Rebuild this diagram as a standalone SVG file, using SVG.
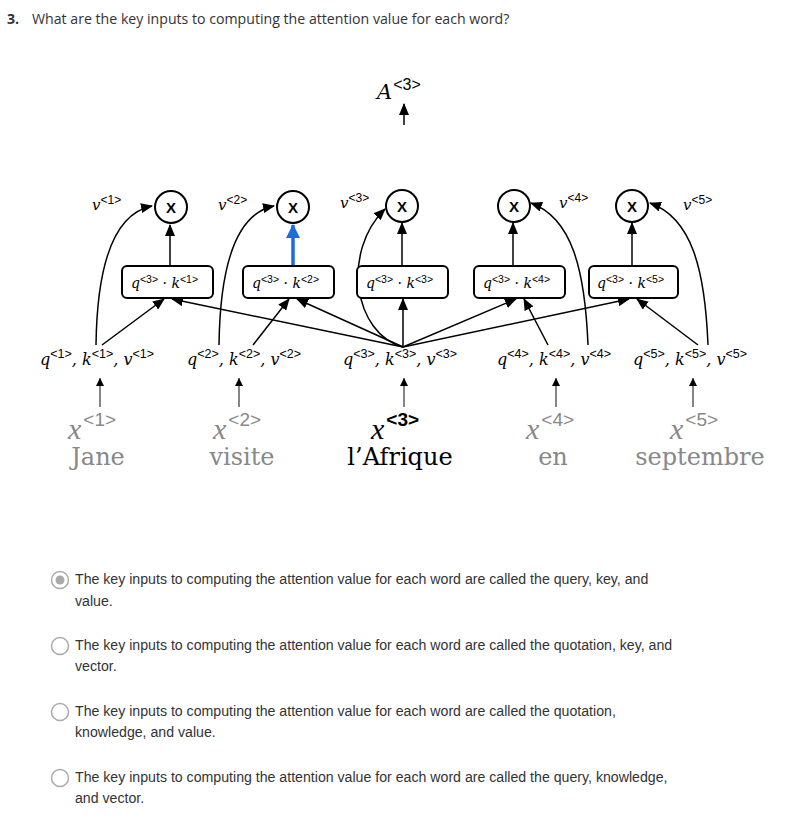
<svg xmlns="http://www.w3.org/2000/svg" width="805" height="824" viewBox="0 0 805 824">
<defs>
<marker id="ah" markerUnits="userSpaceOnUse" markerWidth="12" markerHeight="10" refX="11" refY="5" orient="auto"><path d="M0,0 L12,5 L0,10 z" fill="#000"/></marker>
<marker id="ahs" markerUnits="userSpaceOnUse" markerWidth="8" markerHeight="8" refX="8" refY="4" orient="auto"><path d="M0,0 L8,4 L0,8 z" fill="#000"/></marker>
<marker id="ahb" markerUnits="userSpaceOnUse" markerWidth="14" markerHeight="14" refX="13" refY="7" orient="auto"><path d="M0,0 L14,7 L0,14 z" fill="#1f6ae0"/></marker>
</defs>
<style>
.q{font-family:"Open Sans","Noto Sans",sans-serif;font-size:14.15px;fill:#333}
.opt{font-family:"Liberation Sans",Arial,sans-serif;font-size:14.15px;fill:#333}
.m{font-family:"DejaVu Serif","Liberation Serif",serif;font-style:italic}
.mx{font-family:"Liberation Serif","DejaVu Serif",serif;font-style:italic}
.sup{font-family:"Liberation Sans",Arial,sans-serif;font-style:normal}
.box{fill:#fff;stroke:#000;stroke-width:2}
.cir{fill:#fff;stroke:#000;stroke-width:2}
.xl{font-family:"Liberation Sans",Arial,sans-serif;font-weight:bold;font-size:15px;text-anchor:middle}
.c{fill:none;stroke:#000;stroke-width:1.5}
.cu{fill:none;stroke:#000;stroke-width:1.5}
.word{font-family:"DejaVu Serif","Liberation Serif",serif;font-size:24px;text-anchor:middle}
.g{fill:#888}
</style>
<rect width="805" height="824" fill="#fff"/>

<g id="question">
<text x="7" y="24" class="q" style="font-weight:bold">3.</text>
<text x="32" y="24" class="q">What are the key inputs to computing the attention value for each word?</text>
</g>

<g id="A3">
<text x="377" y="99" class="m" font-size="21">A<tspan class="sup" font-size="16" dy="-9" dx="1">&lt;3&gt;</tspan></text>
</g>

<g id="connectors">
<line x1="404" y1="125" x2="404" y2="104" class="c" marker-end="url(#ah)"/>
<line x1="170" y1="265" x2="170" y2="225" class="c" marker-end="url(#ah)"/>
<line x1="293" y1="265" x2="293" y2="225" stroke="#1f6ae0" stroke-width="3.5" marker-end="url(#ahb)"/>
<line x1="402" y1="265" x2="402" y2="223" class="c" marker-end="url(#ah)"/>
<line x1="513" y1="265" x2="513" y2="223" class="c" marker-end="url(#ah)"/>
<line x1="632" y1="265" x2="632" y2="223" class="c" marker-end="url(#ah)"/>
<line x1="102" y1="345" x2="164" y2="299" class="c" marker-end="url(#ah)"/>
<line x1="403" y1="347" x2="172" y2="299" class="c" marker-end="url(#ah)"/>
<line x1="253" y1="345" x2="289" y2="299" class="c" marker-end="url(#ah)"/>
<line x1="403" y1="347" x2="297" y2="299" class="c" marker-end="url(#ah)"/>
<line x1="403" y1="347" x2="403" y2="299" class="c" marker-end="url(#ah)"/>
<line x1="403" y1="347" x2="516" y2="299" class="c" marker-end="url(#ah)"/>
<line x1="548" y1="345" x2="524" y2="299" class="c" marker-end="url(#ah)"/>
<line x1="403" y1="347" x2="629" y2="299" class="c" marker-end="url(#ah)"/>
<line x1="698" y1="345" x2="637" y2="299" class="c" marker-end="url(#ah)"/>
<path d="M96 345 C97 270 112 214 152 206" class="cu" marker-end="url(#ah)"/>
<path d="M219 345 C220 270 234 214 274 206" class="cu" marker-end="url(#ah)"/>
<path d="M403 347 C354 334 341 252 385 209" class="cu" marker-end="url(#ah)"/>
<path d="M588 345 C585 270 572 218 531 203" class="cu" marker-end="url(#ah)"/>
<path d="M708 345 C705 270 692 218 650 203" class="cu" marker-end="url(#ah)"/>
<line x1="100" y1="407" x2="100" y2="378" stroke="#333" stroke-width="1.2" marker-end="url(#ahs)"/>
<line x1="239" y1="407" x2="239" y2="378" stroke="#333" stroke-width="1.2" marker-end="url(#ahs)"/>
<line x1="404" y1="407" x2="404" y2="378" stroke="#333" stroke-width="1.2" marker-end="url(#ahs)"/>
<line x1="556" y1="407" x2="556" y2="378" stroke="#333" stroke-width="1.2" marker-end="url(#ahs)"/>
<line x1="693" y1="407" x2="693" y2="378" stroke="#333" stroke-width="1.2" marker-end="url(#ahs)"/>
</g>

<g id="mult1"><circle cx="171" cy="207" r="16" class="cir"/><text x="171" y="213" class="xl">X</text></g>
<g id="mult2"><circle cx="293" cy="207" r="16" class="cir"/><text x="293" y="213" class="xl">X</text></g>
<g id="mult3"><circle cx="402" cy="206" r="16" class="cir"/><text x="402" y="212" class="xl">X</text></g>
<g id="mult4"><circle cx="514" cy="206" r="16" class="cir"/><text x="514" y="212" class="xl">X</text></g>
<g id="mult5"><circle cx="632" cy="206" r="16" class="cir"/><text x="632" y="212" class="xl">X</text></g>

<g id="vlabels">
<text x="92" y="210" class="m" font-size="15">v<tspan class="sup" font-size="12" dy="-6">&lt;1&gt;</tspan></text>
<text x="218" y="210" class="m" font-size="15">v<tspan class="sup" font-size="12" dy="-6">&lt;2&gt;</tspan></text>
<text x="340" y="208" class="m" font-size="15">v<tspan class="sup" font-size="12" dy="-6">&lt;3&gt;</tspan></text>
<text x="559" y="208" class="m" font-size="15">v<tspan class="sup" font-size="12" dy="-6">&lt;4&gt;</tspan></text>
<text x="683" y="210" class="m" font-size="15">v<tspan class="sup" font-size="12" dy="-6">&lt;5&gt;</tspan></text>
</g>

<g id="box1"><rect x="122" y="266" width="91" height="32" rx="5" class="box"/><text x="131" y="288" class="m" font-size="14">q<tspan class="sup" font-size="10.5" dy="-5">&lt;3&gt;</tspan><tspan dy="5" style="font-style:normal"> · </tspan>k<tspan class="sup" font-size="10.5" dy="-5">&lt;1&gt;</tspan></text></g>
<g id="box2"><rect x="243" y="266" width="91" height="32" rx="5" class="box"/><text x="252" y="288" class="m" font-size="14">q<tspan class="sup" font-size="10.5" dy="-5">&lt;3&gt;</tspan><tspan dy="5" style="font-style:normal"> · </tspan>k<tspan class="sup" font-size="10.5" dy="-5">&lt;2&gt;</tspan></text></g>
<g id="box3"><rect x="357" y="266" width="91" height="32" rx="5" class="box"/><text x="366" y="288" class="m" font-size="14">q<tspan class="sup" font-size="10.5" dy="-5">&lt;3&gt;</tspan><tspan dy="5" style="font-style:normal"> · </tspan>k<tspan class="sup" font-size="10.5" dy="-5">&lt;3&gt;</tspan></text></g>
<g id="box4"><rect x="474" y="266" width="91" height="32" rx="5" class="box"/><text x="483" y="288" class="m" font-size="14">q<tspan class="sup" font-size="10.5" dy="-5">&lt;3&gt;</tspan><tspan dy="5" style="font-style:normal"> · </tspan>k<tspan class="sup" font-size="10.5" dy="-5">&lt;4&gt;</tspan></text></g>
<g id="box5"><rect x="589" y="266" width="89" height="32" rx="5" class="box"/><text x="597" y="288" class="m" font-size="14">q<tspan class="sup" font-size="10.5" dy="-5">&lt;3&gt;</tspan><tspan dy="5" style="font-style:normal"> · </tspan>k<tspan class="sup" font-size="10.5" dy="-5">&lt;5&gt;</tspan></text></g>

<g id="qkv1"><text x="40" y="365" class="m" font-size="16">q<tspan class="sup" font-size="12.5" dy="-7">&lt;1&gt;</tspan><tspan dy="7">, k</tspan><tspan class="sup" font-size="12.5" dy="-7">&lt;1&gt;</tspan><tspan dy="7">, v</tspan><tspan class="sup" font-size="12.5" dy="-7">&lt;1&gt;</tspan></text></g>
<g id="qkv2"><text x="187" y="365" class="m" font-size="16">q<tspan class="sup" font-size="12.5" dy="-7">&lt;2&gt;</tspan><tspan dy="7">, k</tspan><tspan class="sup" font-size="12.5" dy="-7">&lt;2&gt;</tspan><tspan dy="7">, v</tspan><tspan class="sup" font-size="12.5" dy="-7">&lt;2&gt;</tspan></text></g>
<g id="qkv3"><text x="343" y="365" class="m" font-size="16">q<tspan class="sup" font-size="12.5" dy="-7">&lt;3&gt;</tspan><tspan dy="7">, k</tspan><tspan class="sup" font-size="12.5" dy="-7">&lt;3&gt;</tspan><tspan dy="7">, v</tspan><tspan class="sup" font-size="12.5" dy="-7">&lt;3&gt;</tspan></text></g>
<g id="qkv4"><text x="497" y="365" class="m" font-size="16">q<tspan class="sup" font-size="12.5" dy="-7">&lt;4&gt;</tspan><tspan dy="7">, k</tspan><tspan class="sup" font-size="12.5" dy="-7">&lt;4&gt;</tspan><tspan dy="7">, v</tspan><tspan class="sup" font-size="12.5" dy="-7">&lt;4&gt;</tspan></text></g>
<g id="qkv5"><text x="633" y="365" class="m" font-size="16">q<tspan class="sup" font-size="12.5" dy="-7">&lt;5&gt;</tspan><tspan dy="7">, k</tspan><tspan class="sup" font-size="12.5" dy="-7">&lt;5&gt;</tspan><tspan dy="7">, v</tspan><tspan class="sup" font-size="12.5" dy="-7">&lt;5&gt;</tspan></text></g>

<g id="word1"><text x="68" y="439" class="mx g" font-size="30">x<tspan class="sup" font-size="19" dy="-13" dx="2">&lt;1&gt;</tspan></text><text x="98" y="465" class="word g">Jane</text></g>
<g id="word2"><text x="213" y="439" class="mx g" font-size="30">x<tspan class="sup" font-size="19" dy="-13" dx="2">&lt;2&gt;</tspan></text><text x="242" y="465" class="word g">visite</text></g>
<g id="word3"><text x="371" y="439" class="mx" font-size="30">x<tspan class="sup" font-size="19" font-weight="bold" dy="-13" dx="2">&lt;3&gt;</tspan></text><text x="400" y="465" class="word">l’Afrique</text></g>
<g id="word4"><text x="526" y="439" class="mx g" font-size="30">x<tspan class="sup" font-size="19" dy="-13" dx="2">&lt;4&gt;</tspan></text><text x="553" y="465" class="word g">en</text></g>
<g id="word5"><text x="670" y="439" class="mx g" font-size="30">x<tspan class="sup" font-size="19" dy="-13" dx="2">&lt;5&gt;</tspan></text><text x="700" y="465" class="word g">septembre</text></g>

<g id="option1">
<circle cx="60" cy="580" r="8.5" fill="#fff" stroke="#aaa" stroke-width="1.5"/><circle cx="60" cy="580" r="4.5" fill="#aaa"/>
<text x="75" y="584" class="opt">The key inputs to computing the attention value for each word are called the query, key, and</text>
<text x="75" y="606" class="opt">value.</text>
</g>
<g id="option2">
<circle cx="60" cy="646" r="8.5" fill="#fff" stroke="#aaa" stroke-width="1.5"/>
<text x="75" y="650" class="opt">The key inputs to computing the attention value for each word are called the quotation, key, and</text>
<text x="75" y="671" class="opt">vector.</text>
</g>
<g id="option3">
<circle cx="60" cy="712" r="8.5" fill="#fff" stroke="#aaa" stroke-width="1.5"/>
<text x="75" y="716" class="opt">The key inputs to computing the attention value for each word are called the quotation,</text>
<text x="75" y="737" class="opt">knowledge, and value.</text>
</g>
<g id="option4">
<circle cx="60" cy="778" r="8.5" fill="#fff" stroke="#aaa" stroke-width="1.5"/>
<text x="75" y="782" class="opt">The key inputs to computing the attention value for each word are called the query, knowledge,</text>
<text x="75" y="803" class="opt">and vector.</text>
</g>
</svg>
